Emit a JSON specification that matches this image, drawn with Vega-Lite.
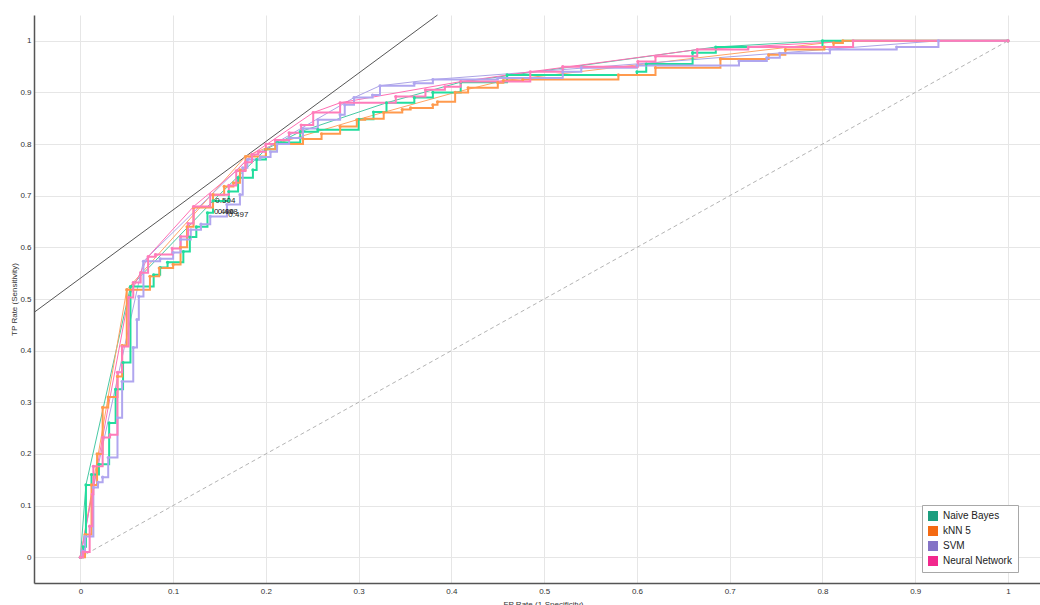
{
  "$schema": "https://vega.github.io/schema/vega-lite/v6.json",
  "width": 1006,
  "height": 568,
  "autosize": "none",
  "padding": {"left": 34, "top": 15, "right": 0, "bottom": 22},
  "config": {
    "font": "Liberation Sans",
    "view": {"stroke": null},
    "legend": {
      "orient": "none",
      "legendX": 888,
      "legendY": 490,
      "direction": "vertical",
      "symbolType": "square",
      "symbolSize": 100,
      "symbolStrokeWidth": 0,
      "symbolOpacity": 1,
      "labelFont": "Liberation Sans",
      "labelFontSize": 10,
      "labelColor": "#222222",
      "strokeColor": "#a8a8a8",
      "fillColor": "#ffffff",
      "padding": 6,
      "rowPadding": 5,
      "labelOffset": 5
    }
  },
  "datasets": {
    "steps": [
      {"m": "Naive Bayes", "x": 0, "y": 0}, {"m": "Naive Bayes", "x": 0.003, "y": 0.02}, {"m": "Naive Bayes", "x": 0.006, "y": 0.14}, {"m": "Naive Bayes", "x": 0.012, "y": 0.16}, {"m": "Naive Bayes", "x": 0.02, "y": 0.18}, {"m": "Naive Bayes", "x": 0.031, "y": 0.26}, {"m": "Naive Bayes", "x": 0.038, "y": 0.325}, {"m": "Naive Bayes", "x": 0.046, "y": 0.377}, {"m": "Naive Bayes", "x": 0.054, "y": 0.524}, {"m": "Naive Bayes", "x": 0.079, "y": 0.547}, {"m": "Naive Bayes", "x": 0.086, "y": 0.561}, {"m": "Naive Bayes", "x": 0.094, "y": 0.571}, {"m": "Naive Bayes", "x": 0.111, "y": 0.592}, {"m": "Naive Bayes", "x": 0.118, "y": 0.62}, {"m": "Naive Bayes", "x": 0.125, "y": 0.64}, {"m": "Naive Bayes", "x": 0.137, "y": 0.667}, {"m": "Naive Bayes", "x": 0.143, "y": 0.69}, {"m": "Naive Bayes", "x": 0.16, "y": 0.708}, {"m": "Naive Bayes", "x": 0.17, "y": 0.735}, {"m": "Naive Bayes", "x": 0.186, "y": 0.75}, {"m": "Naive Bayes", "x": 0.19, "y": 0.77}, {"m": "Naive Bayes", "x": 0.2, "y": 0.79}, {"m": "Naive Bayes", "x": 0.212, "y": 0.803}, {"m": "Naive Bayes", "x": 0.237, "y": 0.824}, {"m": "Naive Bayes", "x": 0.256, "y": 0.828}, {"m": "Naive Bayes", "x": 0.3, "y": 0.848}, {"m": "Naive Bayes", "x": 0.316, "y": 0.862}, {"m": "Naive Bayes", "x": 0.33, "y": 0.88}, {"m": "Naive Bayes", "x": 0.36, "y": 0.89}, {"m": "Naive Bayes", "x": 0.38, "y": 0.9}, {"m": "Naive Bayes", "x": 0.41, "y": 0.92}, {"m": "Naive Bayes", "x": 0.46, "y": 0.934}, {"m": "Naive Bayes", "x": 0.6, "y": 0.94}, {"m": "Naive Bayes", "x": 0.61, "y": 0.955}, {"m": "Naive Bayes", "x": 0.66, "y": 0.977}, {"m": "Naive Bayes", "x": 0.685, "y": 0.988}, {"m": "Naive Bayes", "x": 0.8, "y": 1}, {"m": "Naive Bayes", "x": 1, "y": 1},
      {"m": "kNN 5", "x": 0, "y": 0}, {"m": "kNN 5", "x": 0.005, "y": 0.044}, {"m": "kNN 5", "x": 0.012, "y": 0.14}, {"m": "kNN 5", "x": 0.018, "y": 0.2}, {"m": "kNN 5", "x": 0.024, "y": 0.29}, {"m": "kNN 5", "x": 0.03, "y": 0.31}, {"m": "kNN 5", "x": 0.04, "y": 0.35}, {"m": "kNN 5", "x": 0.045, "y": 0.41}, {"m": "kNN 5", "x": 0.05, "y": 0.518}, {"m": "kNN 5", "x": 0.075, "y": 0.544}, {"m": "kNN 5", "x": 0.085, "y": 0.56}, {"m": "kNN 5", "x": 0.1, "y": 0.567}, {"m": "kNN 5", "x": 0.108, "y": 0.6}, {"m": "kNN 5", "x": 0.115, "y": 0.64}, {"m": "kNN 5", "x": 0.122, "y": 0.677}, {"m": "kNN 5", "x": 0.143, "y": 0.702}, {"m": "kNN 5", "x": 0.155, "y": 0.718}, {"m": "kNN 5", "x": 0.165, "y": 0.725}, {"m": "kNN 5", "x": 0.172, "y": 0.75}, {"m": "kNN 5", "x": 0.178, "y": 0.776}, {"m": "kNN 5", "x": 0.2, "y": 0.79}, {"m": "kNN 5", "x": 0.21, "y": 0.8}, {"m": "kNN 5", "x": 0.24, "y": 0.81}, {"m": "kNN 5", "x": 0.26, "y": 0.82}, {"m": "kNN 5", "x": 0.28, "y": 0.834}, {"m": "kNN 5", "x": 0.298, "y": 0.847}, {"m": "kNN 5", "x": 0.307, "y": 0.849}, {"m": "kNN 5", "x": 0.327, "y": 0.861}, {"m": "kNN 5", "x": 0.347, "y": 0.867}, {"m": "kNN 5", "x": 0.356, "y": 0.87}, {"m": "kNN 5", "x": 0.38, "y": 0.876}, {"m": "kNN 5", "x": 0.385, "y": 0.882}, {"m": "kNN 5", "x": 0.404, "y": 0.9}, {"m": "kNN 5", "x": 0.418, "y": 0.909}, {"m": "kNN 5", "x": 0.45, "y": 0.919}, {"m": "kNN 5", "x": 0.456, "y": 0.923}, {"m": "kNN 5", "x": 0.477, "y": 0.925}, {"m": "kNN 5", "x": 0.58, "y": 0.934}, {"m": "kNN 5", "x": 0.62, "y": 0.948}, {"m": "kNN 5", "x": 0.69, "y": 0.965}, {"m": "kNN 5", "x": 0.742, "y": 0.973}, {"m": "kNN 5", "x": 0.76, "y": 0.983}, {"m": "kNN 5", "x": 0.802, "y": 0.988}, {"m": "kNN 5", "x": 0.812, "y": 0.996}, {"m": "kNN 5", "x": 0.822, "y": 1}, {"m": "kNN 5", "x": 1, "y": 1},
      {"m": "SVM", "x": 0, "y": 0}, {"m": "SVM", "x": 0.002, "y": 0.012}, {"m": "SVM", "x": 0.005, "y": 0.04}, {"m": "SVM", "x": 0.014, "y": 0.135}, {"m": "SVM", "x": 0.019, "y": 0.145}, {"m": "SVM", "x": 0.024, "y": 0.155}, {"m": "SVM", "x": 0.03, "y": 0.193}, {"m": "SVM", "x": 0.04, "y": 0.27}, {"m": "SVM", "x": 0.045, "y": 0.34}, {"m": "SVM", "x": 0.057, "y": 0.406}, {"m": "SVM", "x": 0.061, "y": 0.46}, {"m": "SVM", "x": 0.063, "y": 0.505}, {"m": "SVM", "x": 0.068, "y": 0.573}, {"m": "SVM", "x": 0.086, "y": 0.578}, {"m": "SVM", "x": 0.1, "y": 0.59}, {"m": "SVM", "x": 0.108, "y": 0.615}, {"m": "SVM", "x": 0.119, "y": 0.634}, {"m": "SVM", "x": 0.13, "y": 0.645}, {"m": "SVM", "x": 0.14, "y": 0.66}, {"m": "SVM", "x": 0.158, "y": 0.683}, {"m": "SVM", "x": 0.172, "y": 0.702}, {"m": "SVM", "x": 0.175, "y": 0.754}, {"m": "SVM", "x": 0.18, "y": 0.77}, {"m": "SVM", "x": 0.194, "y": 0.775}, {"m": "SVM", "x": 0.205, "y": 0.785}, {"m": "SVM", "x": 0.212, "y": 0.8}, {"m": "SVM", "x": 0.225, "y": 0.812}, {"m": "SVM", "x": 0.24, "y": 0.83}, {"m": "SVM", "x": 0.256, "y": 0.847}, {"m": "SVM", "x": 0.28, "y": 0.857}, {"m": "SVM", "x": 0.285, "y": 0.876}, {"m": "SVM", "x": 0.295, "y": 0.89}, {"m": "SVM", "x": 0.315, "y": 0.895}, {"m": "SVM", "x": 0.323, "y": 0.913}, {"m": "SVM", "x": 0.36, "y": 0.918}, {"m": "SVM", "x": 0.38, "y": 0.925}, {"m": "SVM", "x": 0.45, "y": 0.928}, {"m": "SVM", "x": 0.52, "y": 0.94}, {"m": "SVM", "x": 0.54, "y": 0.948}, {"m": "SVM", "x": 0.6, "y": 0.952}, {"m": "SVM", "x": 0.71, "y": 0.961}, {"m": "SVM", "x": 0.74, "y": 0.967}, {"m": "SVM", "x": 0.754, "y": 0.976}, {"m": "SVM", "x": 0.808, "y": 0.983}, {"m": "SVM", "x": 0.88, "y": 0.988}, {"m": "SVM", "x": 0.925, "y": 1}, {"m": "SVM", "x": 1, "y": 1},
      {"m": "Neural Network", "x": 0, "y": 0}, {"m": "Neural Network", "x": 0.003, "y": 0.01}, {"m": "Neural Network", "x": 0.01, "y": 0.06}, {"m": "Neural Network", "x": 0.013, "y": 0.122}, {"m": "Neural Network", "x": 0.014, "y": 0.176}, {"m": "Neural Network", "x": 0.024, "y": 0.232}, {"m": "Neural Network", "x": 0.032, "y": 0.237}, {"m": "Neural Network", "x": 0.04, "y": 0.358}, {"m": "Neural Network", "x": 0.045, "y": 0.408}, {"m": "Neural Network", "x": 0.052, "y": 0.503}, {"m": "Neural Network", "x": 0.057, "y": 0.532}, {"m": "Neural Network", "x": 0.065, "y": 0.551}, {"m": "Neural Network", "x": 0.073, "y": 0.582}, {"m": "Neural Network", "x": 0.081, "y": 0.586}, {"m": "Neural Network", "x": 0.099, "y": 0.598}, {"m": "Neural Network", "x": 0.108, "y": 0.621}, {"m": "Neural Network", "x": 0.116, "y": 0.646}, {"m": "Neural Network", "x": 0.122, "y": 0.679}, {"m": "Neural Network", "x": 0.14, "y": 0.702}, {"m": "Neural Network", "x": 0.16, "y": 0.72}, {"m": "Neural Network", "x": 0.168, "y": 0.748}, {"m": "Neural Network", "x": 0.178, "y": 0.765}, {"m": "Neural Network", "x": 0.185, "y": 0.78}, {"m": "Neural Network", "x": 0.192, "y": 0.785}, {"m": "Neural Network", "x": 0.2, "y": 0.8}, {"m": "Neural Network", "x": 0.21, "y": 0.808}, {"m": "Neural Network", "x": 0.225, "y": 0.822}, {"m": "Neural Network", "x": 0.238, "y": 0.837}, {"m": "Neural Network", "x": 0.251, "y": 0.861}, {"m": "Neural Network", "x": 0.28, "y": 0.88}, {"m": "Neural Network", "x": 0.34, "y": 0.892}, {"m": "Neural Network", "x": 0.372, "y": 0.905}, {"m": "Neural Network", "x": 0.393, "y": 0.911}, {"m": "Neural Network", "x": 0.41, "y": 0.921}, {"m": "Neural Network", "x": 0.485, "y": 0.94}, {"m": "Neural Network", "x": 0.52, "y": 0.95}, {"m": "Neural Network", "x": 0.601, "y": 0.96}, {"m": "Neural Network", "x": 0.62, "y": 0.97}, {"m": "Neural Network", "x": 0.665, "y": 0.983}, {"m": "Neural Network", "x": 0.72, "y": 0.988}, {"m": "Neural Network", "x": 0.833, "y": 1}, {"m": "Neural Network", "x": 1, "y": 1}
    ],
    "hulls": [
      {"m": "Naive Bayes", "x": 0, "y": 0}, {"m": "Naive Bayes", "x": 0.006, "y": 0.14}, {"m": "Naive Bayes", "x": 0.054, "y": 0.524}, {"m": "Naive Bayes", "x": 0.143, "y": 0.69}, {"m": "Naive Bayes", "x": 0.2, "y": 0.79}, {"m": "Naive Bayes", "x": 0.237, "y": 0.824}, {"m": "Naive Bayes", "x": 0.33, "y": 0.88}, {"m": "Naive Bayes", "x": 0.41, "y": 0.92}, {"m": "Naive Bayes", "x": 0.685, "y": 0.988}, {"m": "Naive Bayes", "x": 0.8, "y": 1}, {"m": "Naive Bayes", "x": 1, "y": 1},
      {"m": "kNN 5", "x": 0, "y": 0}, {"m": "kNN 5", "x": 0.05, "y": 0.518}, {"m": "kNN 5", "x": 0.178, "y": 0.776}, {"m": "kNN 5", "x": 0.21, "y": 0.8}, {"m": "kNN 5", "x": 0.298, "y": 0.847}, {"m": "kNN 5", "x": 0.404, "y": 0.9}, {"m": "kNN 5", "x": 0.456, "y": 0.923}, {"m": "kNN 5", "x": 0.822, "y": 1}, {"m": "kNN 5", "x": 1, "y": 1},
      {"m": "SVM", "x": 0, "y": 0}, {"m": "SVM", "x": 0.014, "y": 0.135}, {"m": "SVM", "x": 0.068, "y": 0.573}, {"m": "SVM", "x": 0.18, "y": 0.77}, {"m": "SVM", "x": 0.295, "y": 0.89}, {"m": "SVM", "x": 0.323, "y": 0.913}, {"m": "SVM", "x": 0.38, "y": 0.925}, {"m": "SVM", "x": 0.925, "y": 1}, {"m": "SVM", "x": 1, "y": 1},
      {"m": "Neural Network", "x": 0, "y": 0}, {"m": "Neural Network", "x": 0.052, "y": 0.503}, {"m": "Neural Network", "x": 0.073, "y": 0.582}, {"m": "Neural Network", "x": 0.122, "y": 0.679}, {"m": "Neural Network", "x": 0.168, "y": 0.748}, {"m": "Neural Network", "x": 0.185, "y": 0.78}, {"m": "Neural Network", "x": 0.251, "y": 0.861}, {"m": "Neural Network", "x": 0.28, "y": 0.88}, {"m": "Neural Network", "x": 0.41, "y": 0.921}, {"m": "Neural Network", "x": 0.485, "y": 0.94}, {"m": "Neural Network", "x": 0.665, "y": 0.983}, {"m": "Neural Network", "x": 0.833, "y": 1}, {"m": "Neural Network", "x": 1, "y": 1}
    ]
  },
  "encoding": {
    "x": {
      "field": "x",
      "type": "quantitative",
      "scale": {"domain": [-0.05, 1.0345], "nice": false, "zero": false},
      "axis": {
        "title": "FP Rate (1-Specificity)",
        "values": [0, 0.1, 0.2, 0.3, 0.4, 0.5, 0.6, 0.7, 0.8, 0.9, 1],
        "format": "~g",
        "grid": true,
        "gridColor": "#e6e6e6",
        "ticks": false,
        "labelPadding": 4,
        "labelFontSize": 8,
        "labelColor": "#333333",
        "domainColor": "#555555",
        "domainWidth": 1.5,
        "titleFontSize": 8,
        "titleFontWeight": "normal",
        "titleColor": "#333333",
        "titleX": 509,
        "titleY": 17,
        "titleBaseline": "top"
      }
    },
    "y": {
      "field": "y",
      "type": "quantitative",
      "scale": {"domain": [-0.05, 1.05], "nice": false, "zero": false},
      "axis": {
        "title": "TP Rate (Sensitivity)",
        "values": [0, 0.1, 0.2, 0.3, 0.4, 0.5, 0.6, 0.7, 0.8, 0.9, 1],
        "format": "~g",
        "grid": true,
        "gridColor": "#e6e6e6",
        "ticks": false,
        "labelPadding": 3,
        "labelFontSize": 8,
        "labelColor": "#333333",
        "domainColor": "#555555",
        "domainWidth": 1.5,
        "titleFontSize": 8,
        "titleFontWeight": "normal",
        "titleColor": "#333333",
        "titleX": -20,
        "titleY": 284,
        "titleBaseline": "middle"
      }
    }
  },
  "layer": [
    {
      "data": {"values": [{"x": 0, "y": 0}, {"x": 1, "y": 1}]},
      "mark": {"type": "line", "color": "#b4b4b4", "strokeWidth": 1, "strokeDash": [4, 3]}
    },
    {
      "data": {"values": [{"x": -0.05, "y": 0.474}, {"x": 0.385, "y": 1.05}]},
      "mark": {"type": "line", "color": "#555555", "strokeWidth": 1}
    },
    {
      "data": {"name": "hulls"},
      "mark": {"type": "line", "strokeWidth": 1},
      "encoding": {
        "color": {
          "field": "m", "type": "nominal", "legend": null,
          "scale": {"domain": ["Naive Bayes", "kNN 5", "SVM", "Neural Network"], "range": ["#48c9a4", "#ffa466", "#aca4e6", "#ff6fb3"]}
        }
      }
    },
    {
      "data": {"name": "steps"},
      "mark": {"type": "line", "interpolate": "step-after", "strokeWidth": 2},
      "encoding": {
        "color": {
          "field": "m", "type": "nominal", "legend": null,
          "scale": {"domain": ["Naive Bayes", "kNN 5", "SVM", "Neural Network"], "range": ["#22dd9d", "#ff9a4d", "#b0a6ef", "#ff7cba"]}
        }
      }
    },
    {
      "data": {"name": "steps"},
      "mark": {"type": "point", "filled": true, "size": 10, "opacity": 1},
      "encoding": {
        "color": {
          "field": "m", "type": "nominal", "legend": null,
          "scale": {"domain": ["Naive Bayes", "kNN 5", "SVM", "Neural Network"], "range": ["#22dd9d", "#ff9a4d", "#b0a6ef", "#ff7cba"]}
        }
      }
    },
    {
      "data": {"values": [
        {"x": 0.1455, "y": 0.6905, "t": "0.504"},
        {"x": 0.144, "y": 0.669, "t": "0.496"},
        {"x": 0.148, "y": 0.669, "t": "0.498"},
        {"x": 0.1595, "y": 0.6635, "t": "0.497"}
      ]},
      "mark": {"type": "text", "align": "left", "baseline": "middle", "fontSize": 8, "color": "#222222"},
      "encoding": {"text": {"field": "t"}}
    },
    {
      "data": {"name": "steps"},
      "mark": {"type": "square", "opacity": 0},
      "encoding": {
        "color": {
          "field": "m", "type": "nominal", "title": null,
          "scale": {"domain": ["Naive Bayes", "kNN 5", "SVM", "Neural Network"], "range": ["#1b9e7f", "#f46a12", "#8473c6", "#f2288d"]}
        }
      }
    }
  ],
  "resolve": {"scale": {"color": "independent"}}
}
